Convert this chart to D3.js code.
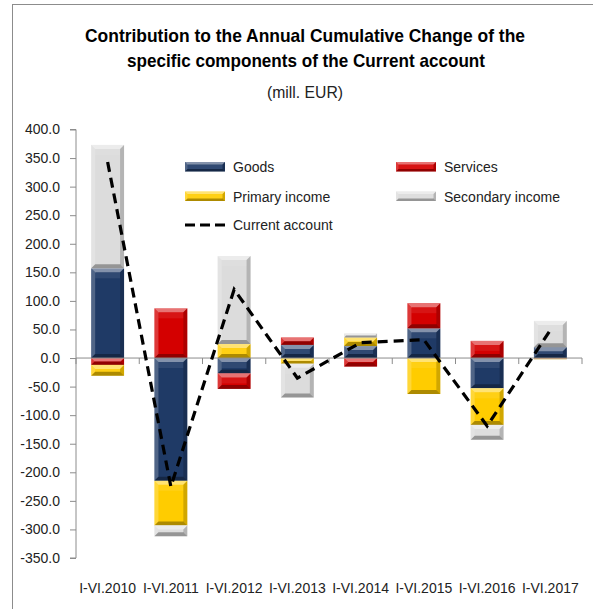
<!DOCTYPE html>
<html><head><meta charset="utf-8">
<script src="https://cdn.jsdelivr.net/npm/d3@7"></script>
<style>body{margin:0;background:#fff}svg{display:block}</style>
</head><body><svg id="c" width="593" height="609"></svg>
<script>
const categories = ["I-VI.2010","I-VI.2011","I-VI.2012","I-VI.2013","I-VI.2014","I-VI.2015","I-VI.2016","I-VI.2017"];
const goods     = [157, -215, -27, 23, 21, 52, -53, 19];
const services  = [-12, 87, -27, 13, -15, 44, 30, -1];
const primary   = [-19, -78, 24.5, -10, 15, -63, -64, -1];
const secondary = [216, -19, 154, -59, 7, 0, -26, 46];
const current   = [343, -225, 120, -35, 27, 32, -119, 49];
const yTicks = [-350,-300,-250,-200,-150,-100,-50,0,50,100,150,200,250,300,350,400];
const seriesNames = ["Goods","Services","Primary income","Secondary income"];
const seriesColors = ["#1f3a66","#d40000","#ffcc00","#dcdcdc"];
const lineName = "Current account";
const titleLines = ["Contribution  to the Annual Cumulative  Change of the","specific components  of the Current account"];
const subTitle = "(mill. EUR)";

const svg = d3.select("#c");
const FONT = "'Liberation Sans', Arial, sans-serif";

// frame
svg.append("rect").attr("x",12.5).attr("y",4.5).attr("width",600).attr("height",620)
  .attr("fill","none").attr("stroke","#8c8c8c").attr("stroke-width",1);

// title
const tg = svg.append("g").attr("font-family",FONT).attr("text-anchor","middle").attr("fill","#000");
tg.append("text").attr("x",305).attr("y",41.5).attr("font-weight","bold").attr("font-size",19)
  .attr("textLength",440).attr("lengthAdjust","spacingAndGlyphs").text(titleLines[0]);
tg.append("text").attr("x",306).attr("y",66.5).attr("font-weight","bold").attr("font-size",19)
  .attr("textLength",358).attr("lengthAdjust","spacingAndGlyphs").text(titleLines[1]);
tg.append("text").attr("x",305).attr("y",98).attr("font-size",16.5).attr("fill","#222")
  .attr("textLength",76).attr("lengthAdjust","spacingAndGlyphs").text(subTitle);

const x = d3.scaleBand().domain(categories).range([76,582]).paddingInner(0.48).paddingOuter(0.24);
const y = d3.scaleLinear().domain([-350,400]).range([558,129.5]);

// y axis
const yAxis = d3.axisLeft(y).tickValues(yTicks).tickFormat(d=>d.toFixed(1)).tickSize(6).tickPadding(10);
const ya = svg.append("g").attr("transform","translate(76,0)").call(yAxis);
ya.select(".domain").attr("stroke","#8c8c8c").attr("d","M-6,"+y(400)+"H0V"+y(-350)+"H-6");
ya.selectAll(".tick line").attr("stroke","#8c8c8c");
ya.selectAll("text").attr("font-family",FONT).attr("font-size",14).attr("fill","#222");

// data table
const rows = categories.map((c,i)=>({cat:c, s0:goods[i], s1:services[i], s2:primary[i], s3:secondary[i]}));
const stack = d3.stack().keys(["s0","s1","s2","s3"]).offset(d3.stackOffsetDiverging)(rows);

function bevelRect(g, x0, y0, w, h, color, bmax){
  if (h < 0.5) return;
  g.append("rect").attr("x",x0).attr("y",y0).attr("width",w).attr("height",h).attr("fill",color);
  const b = Math.min(bmax, h/2, w/2);
  const poly = (pts, fill, op) => g.append("polygon").attr("points",pts.map(p=>p.join(",")).join(" ")).attr("fill",fill).attr("fill-opacity",op);
  poly([[x0,y0],[x0+w,y0],[x0+w-b,y0+b],[x0+b,y0+b]],"#fff",0.45);
  poly([[x0,y0],[x0+b,y0+b],[x0+b,y0+h-b],[x0,y0+h]],"#fff",0.22);
  poly([[x0+w,y0],[x0+w,y0+h],[x0+w-b,y0+h-b],[x0+w-b,y0+b]],"#000",0.18);
  poly([[x0,y0+h],[x0+b,y0+h-b],[x0+w-b,y0+h-b],[x0+w,y0+h]],"#000",0.32);
  if (h > 2*b+2) g.append("rect").attr("x",x0+b).attr("y",y0+b).attr("width",w-2*b).attr("height",Math.min(h-2*b, 6))
     .attr("fill","#fff").attr("fill-opacity",0.08);
}

const bars = svg.append("g");
stack.forEach((layer, si) => {
  layer.forEach(d => {
    const y0 = y(Math.max(d[0],d[1])), y1 = y(Math.min(d[0],d[1]));
    bevelRect(bars, x(d.data.cat), y0, x.bandwidth(), y1-y0, seriesColors[si], 4);
  });
});

// x axis (category axis at zero)
const xa = svg.append("g");
xa.append("line").attr("x1",76).attr("x2",582).attr("y1",y(0)).attr("y2",y(0)).attr("stroke","#8c8c8c");
const bounds = categories.map(c => x(c) - x.step()*x.paddingInner()/2).concat([582]);
xa.selectAll("line.t").data(bounds).join("line").attr("class","t")
  .attr("x1",d=>d).attr("x2",d=>d).attr("y1",y(0)).attr("y2",y(0)+6).attr("stroke","#8c8c8c");
svg.append("g").selectAll("text").data(categories).join("text")
  .attr("x",d=>x(d)+x.bandwidth()/2).attr("y",593).attr("text-anchor","middle")
  .attr("font-family",FONT).attr("font-size",14).attr("fill","#222").text(d=>d);

// current account line
const line = d3.line().x((d,i)=>x(categories[i])+x.bandwidth()/2).y(d=>y(d));
svg.append("path").datum(current).attr("d",line).attr("fill","none")
  .attr("stroke","#000").attr("stroke-width",3.2).attr("stroke-dasharray","10,6");

// legend
const lg = svg.append("g").attr("font-family",FONT).attr("font-size",14).attr("fill","#222");
const legPos = [[185,162],[396,162],[185,191.5],[396,191.5]];
seriesNames.forEach((n,i)=>{
  const [lx,ly] = legPos[i];
  bevelRect(lg, lx, ly, 40, 9.5, seriesColors[i], 2.5);
  lg.append("text").attr("x",lx+48).attr("y",ly+10).text(n);
});
lg.append("line").attr("x1",185).attr("x2",225).attr("y1",225).attr("y2",225)
  .attr("stroke","#000").attr("stroke-width",3.2).attr("stroke-dasharray","10,5");
lg.append("text").attr("x",233).attr("y",230).text(lineName);
</script></body></html>
